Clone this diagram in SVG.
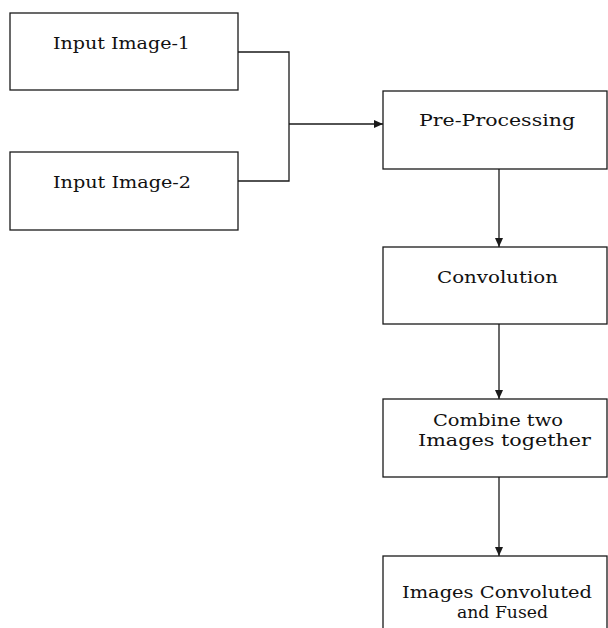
<svg xmlns="http://www.w3.org/2000/svg" width="608" height="628" viewBox="0 0 608 628">
<style>
.box{fill:#fff;stroke:#1a1a1a;stroke-width:1.3}
.lbl{font-family:"DejaVu Serif","Liberation Serif",serif;font-size:17px;fill:#111;text-anchor:middle}
.sm{font-size:16px}
.con{fill:none;stroke:#1a1a1a;stroke-width:1.3}
</style>
<defs>
<marker id="ah" markerUnits="userSpaceOnUse" markerWidth="10" markerHeight="8" refX="9" refY="4" orient="auto">
<path d="M0,0 L9,4 L0,8 Z" fill="#1a1a1a"/>
</marker>
</defs>
<rect width="608" height="628" fill="#fff"/>
<g id="connectors">
<polyline class="con" points="238,52 289,52 289,181 238,181"/>
<line class="con" x1="289" y1="124" x2="383" y2="124" marker-end="url(#ah)"/>
<line class="con" x1="499" y1="169" x2="499" y2="247" marker-end="url(#ah)"/>
<line class="con" x1="499" y1="324" x2="499" y2="399" marker-end="url(#ah)"/>
<line class="con" x1="499" y1="477" x2="499" y2="556" marker-end="url(#ah)"/>
</g>
<g id="input1">
<rect class="box" x="10" y="13" width="228" height="77"/>
<text class="lbl" x="121.5" y="49" textLength="137" lengthAdjust="spacingAndGlyphs">Input Image-1</text>
</g>
<g id="input2">
<rect class="box" x="10" y="152" width="228" height="78"/>
<text class="lbl" x="122" y="188" textLength="138" lengthAdjust="spacingAndGlyphs">Input Image-2</text>
</g>
<g id="preprocessing">
<rect class="box" x="383" y="91" width="224" height="78"/>
<text class="lbl" x="497" y="126" textLength="156" lengthAdjust="spacingAndGlyphs">Pre-Processing</text>
</g>
<g id="convolution">
<rect class="box" x="383" y="247" width="224" height="77"/>
<text class="lbl" x="497.5" y="283" textLength="121" lengthAdjust="spacingAndGlyphs">Convolution</text>
</g>
<g id="combine">
<rect class="box" x="383" y="399" width="224" height="78"/>
<text class="lbl sm" x="498" y="426" textLength="130" lengthAdjust="spacingAndGlyphs">Combine two</text>
<text class="lbl sm" x="504.5" y="446" textLength="173" lengthAdjust="spacingAndGlyphs">Images together</text>
</g>
<g id="fused">
<rect class="box" x="383" y="556" width="224" height="80"/>
<text class="lbl sm" x="497" y="598" textLength="190" lengthAdjust="spacingAndGlyphs">Images Convoluted</text>
<text class="lbl sm" x="502.5" y="618" textLength="91" lengthAdjust="spacingAndGlyphs">and Fused</text>
</g>
</svg>
